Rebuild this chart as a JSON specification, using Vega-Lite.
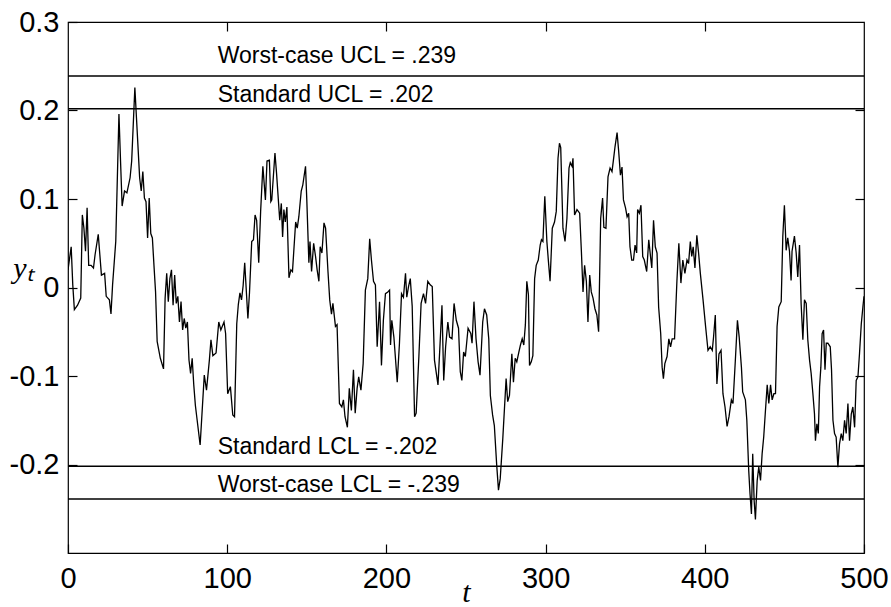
{
  "$schema": "https://vega.github.io/schema/vega-lite/v6.json",
  "width": 796,
  "height": 531,
  "autosize": {"type": "none"},
  "padding": {"left": 68, "top": 22, "right": 27, "bottom": 54},
  "background": "white",
  "config": {
    "view": {"stroke": "black", "strokeWidth": 1.2},
    "axis": {"grid": false, "domain": false, "labelFont": "Liberation Sans", "labelColor": "black", "tickColor": "black", "tickWidth": 1.2, "labelFlush": false, "labelOverlap": false, "labelBound": false}
  },
  "datasets": {
    "s": [
      {"t":0,"y":0.020},{"t":2,"y":0.046},{"t":3,"y":0.003},{"t":4,"y":-0.025},{"t":6,"y":-0.020},{"t":8,"y":-0.012},{"t":9,"y":0.082},{"t":10,"y":0.067},{"t":11,"y":0.041},{"t":12,"y":0.090},{"t":13,"y":0.025},{"t":14.5,"y":0.025},{"t":16,"y":0.022},{"t":17,"y":0.037},{"t":19,"y":0.060},{"t":21,"y":0.014},{"t":23,"y":0.016},{"t":24,"y":-0.010},{"t":26,"y":-0.014},{"t":27,"y":-0.030},{"t":28,"y":0.003},{"t":30,"y":0.052},{"t":32,"y":0.196},{"t":33,"y":0.143},{"t":34,"y":0.092},{"t":35.5,"y":0.109},{"t":37,"y":0.107},{"t":39,"y":0.124},{"t":40,"y":0.143},{"t":42,"y":0.226},{"t":43,"y":0.192},{"t":45,"y":0.124},{"t":46,"y":0.109},{"t":47,"y":0.131},{"t":48,"y":0.101},{"t":49,"y":0.097},{"t":50,"y":0.056},{"t":51,"y":0.101},{"t":52,"y":0.061},{"t":53,"y":0.056},{"t":54,"y":0.025},{"t":55,"y":-0.005},{"t":56,"y":-0.061},{"t":58,"y":-0.080},{"t":60,"y":-0.092},{"t":61,"y":-0.012},{"t":62,"y":0.016},{"t":63,"y":-0.016},{"t":64,"y":0.010},{"t":65,"y":0.020},{"t":66,"y":-0.020},{"t":67,"y":0.014},{"t":68,"y":-0.018},{"t":69,"y":-0.010},{"t":70,"y":-0.039},{"t":71,"y":-0.016},{"t":72,"y":-0.048},{"t":73,"y":-0.035},{"t":74,"y":-0.046},{"t":75,"y":-0.039},{"t":76,"y":-0.082},{"t":77,"y":-0.097},{"t":78,"y":-0.080},{"t":79,"y":-0.110},{"t":80,"y":-0.133},{"t":81,"y":-0.148},{"t":83,"y":-0.178},
      {"t":85.6,"y":-0.099},{"t":87,"y":-0.116},{"t":88.8,"y":-0.082},{"t":89.8,"y":-0.059},{"t":91,"y":-0.077},{"t":93,"y":-0.074},{"t":94.7,"y":-0.039},{"t":96,"y":-0.048},{"t":98,"y":-0.039},{"t":99,"y":-0.052},{"t":100.3,"y":-0.120},{"t":102,"y":-0.112},{"t":103.5,"y":-0.144},{"t":104.6,"y":-0.146},{"t":106,"y":-0.041},{"t":107,"y":-0.019},{"t":108,"y":-0.006},{"t":109,"y":-0.014},{"t":110,"y":0.002},{"t":111,"y":0.028},{"t":113,"y":-0.035},{"t":114,"y":-0.006},{"t":115.4,"y":0.052},{"t":116.5,"y":0.054},{"t":117.5,"y":0.082},{"t":118.5,"y":0.076},{"t":119.8,"y":0.028},{"t":121,"y":0.086},{"t":122.4,"y":0.137},{"t":124,"y":0.099},{"t":125,"y":0.143},{"t":126.5,"y":0.144},{"t":127.4,"y":0.097},{"t":128,"y":0.099},{"t":130,"y":0.152},{"t":131,"y":0.129},{"t":133,"y":0.076},{"t":134,"y":0.095},{"t":134.8,"y":0.057},{"t":135.6,"y":0.088},{"t":136.5,"y":0.074},{"t":137.5,"y":0.091},{"t":138.8,"y":0.011},{"t":140,"y":0.020},{"t":141,"y":0.018},{"t":143,"y":0.074},{"t":144,"y":0.067},{"t":145,"y":0.080},{"t":146.5,"y":0.109},{"t":147.5,"y":0.116},{"t":149.2,"y":0.137},{"t":150,"y":0.099},{"t":151.3,"y":0.028},{"t":152,"y":0.052},{"t":153,"y":0.018},{"t":154.3,"y":0.050},{"t":155.5,"y":0.035},{"t":156.5,"y":0.020},{"t":157.6,"y":0.007},{"t":158.4,"y":0.046},{"t":159.5,"y":0.039},{"t":160.8,"y":0.073},{"t":161.8,"y":0.067},{"t":163.3,"y":0.018},{"t":164.4,"y":-0.014},{"t":165.5,"y":-0.030},{"t":166.4,"y":-0.018},
      {"t":168,"y":-0.044},{"t":169,"y":-0.042},{"t":170.5,"y":-0.131},{"t":172,"y":-0.135},{"t":173,"y":-0.127},{"t":174,"y":-0.146},{"t":175.5,"y":-0.158},{"t":176.7,"y":-0.114},{"t":178,"y":-0.139},{"t":179.3,"y":-0.093},{"t":180.4,"y":-0.142},{"t":181.6,"y":-0.114},{"t":182.6,"y":-0.101},{"t":184,"y":-0.116},{"t":185.4,"y":-0.086},{"t":186.8,"y":-0.003},{"t":188.3,"y":0.010},{"t":189.5,"y":0.055},{"t":190.6,"y":0.031},{"t":191.9,"y":0.007},{"t":193.1,"y":0.003},{"t":194.2,"y":-0.067},{"t":195.7,"y":-0.016},{"t":196.9,"y":-0.088},{"t":198.1,"y":-0.037},{"t":199.4,"y":-0.007},{"t":200.9,"y":-0.005},{"t":202,"y":-0.003},{"t":202.6,"y":-0.065},{"t":203.4,"y":-0.037},{"t":204.7,"y":-0.056},{"t":206.8,"y":-0.107},{"t":208.2,"y":-0.063},{"t":209.5,"y":-0.007},{"t":210.7,"y":-0.011},{"t":212,"y":0.016},{"t":212.8,"y":-0.011},{"t":213.9,"y":0.001},{"t":215,"y":0.010},{"t":216.2,"y":-0.021},{"t":217.7,"y":-0.146},{"t":218.7,"y":-0.142},{"t":220.4,"y":-0.078},{"t":221.8,"y":-0.018},{"t":223.3,"y":-0.007},{"t":224.6,"y":-0.018},{"t":226,"y":0.007},{"t":227.5,"y":0.003},{"t":228.8,"y":0.001},{"t":230.2,"y":-0.082},{"t":232.4,"y":-0.110},{"t":233.5,"y":-0.071},{"t":234.9,"y":-0.020},{"t":236,"y":-0.105},{"t":237.2,"y":-0.067},{"t":238.6,"y":-0.039},{"t":239.7,"y":-0.056},{"t":241.2,"y":-0.058},{"t":242.5,"y":-0.018},{"t":243.9,"y":-0.037},{"t":245.3,"y":-0.046},{"t":246.4,"y":-0.095},{"t":247.4,"y":-0.105},{"t":248.5,"y":-0.073},{"t":249.6,"y":-0.078},
      {"t":251.3,"y":-0.046},{"t":253,"y":-0.052},{"t":253.8,"y":-0.063},{"t":255,"y":-0.016},{"t":256.3,"y":-0.058},{"t":257.6,"y":-0.084},{"t":258.8,"y":-0.099},{"t":260.5,"y":-0.039},{"t":261.6,"y":-0.024},{"t":263,"y":-0.031},{"t":264.3,"y":-0.058},{"t":265.3,"y":-0.122},{"t":266.7,"y":-0.144},{"t":267.8,"y":-0.156},{"t":269.3,"y":-0.201},{"t":270.4,"y":-0.229},{"t":271.5,"y":-0.216},{"t":273.1,"y":-0.171},{"t":275.2,"y":-0.103},{"t":276.2,"y":-0.129},{"t":277.3,"y":-0.122},{"t":278.8,"y":-0.075},{"t":279.8,"y":-0.107},{"t":280.9,"y":-0.080},{"t":281.9,"y":-0.084},{"t":283.2,"y":-0.073},{"t":284.2,"y":-0.065},{"t":285.3,"y":-0.058},{"t":286.3,"y":-0.065},{"t":287.3,"y":-0.042},{"t":288.2,"y":0.007},{"t":289.2,"y":-0.008},{"t":289.9,"y":-0.088},{"t":291,"y":-0.084},{"t":292,"y":-0.077},{"t":293.1,"y":0.010},{"t":294.1,"y":0.025},{"t":295.4,"y":0.031},{"t":296.6,"y":0.048},{"t":297.4,"y":0.054},{"t":298.3,"y":0.052},{"t":299.5,"y":0.103},{"t":300.8,"y":0.052},{"t":301.8,"y":0.029},{"t":302.8,"y":0.007},{"t":304.2,"y":0.067},{"t":305.6,"y":0.074},{"t":306.7,"y":0.086},{"t":307.8,"y":0.146},{"t":308.7,"y":0.163},{"t":309.5,"y":0.158},{"t":310.9,"y":0.067},{"t":312.2,"y":0.052},{"t":313.4,"y":0.078},{"t":314.7,"y":0.135},{"t":315.5,"y":0.141},{"t":316.6,"y":0.137},{"t":317.2,"y":0.146},{"t":318.2,"y":0.082},{"t":319.7,"y":0.088},{"t":321.4,"y":0.084},{"t":322.5,"y":0.040},{"t":323.5,"y":-0.005},{"t":324.5,"y":0.025},{"t":325.6,"y":0.007},{"t":326.6,"y":-0.039},{"t":327.7,"y":0.014},{"t":328.7,"y":-0.005},{"t":329.8,"y":-0.012},{"t":331,"y":-0.024},{"t":332.2,"y":-0.031},{"t":333.3,"y":-0.050},
      {"t":334.6,"y":0.078},{"t":335.8,"y":0.101},{"t":336.6,"y":0.068},{"t":337.9,"y":0.067},{"t":339.2,"y":0.125},{"t":340.5,"y":0.135},{"t":341.7,"y":0.131},{"t":342.6,"y":0.144},{"t":343.6,"y":0.159},{"t":344.9,"y":0.175},{"t":345.9,"y":0.154},{"t":347,"y":0.127},{"t":348,"y":0.136},{"t":348.9,"y":0.099},{"t":350.2,"y":0.090},{"t":351.2,"y":0.080},{"t":352.2,"y":0.084},{"t":353,"y":0.046},{"t":354.1,"y":0.031},{"t":355.2,"y":0.031},{"t":356.2,"y":0.048},{"t":357.2,"y":0.039},{"t":357.8,"y":0.088},{"t":358.9,"y":0.084},{"t":359.9,"y":0.093},{"t":361,"y":0.035},{"t":362,"y":0.031},{"t":363.5,"y":0.018},{"t":364.8,"y":0.054},{"t":365.9,"y":0.035},{"t":366.7,"y":0.022},{"t":367.8,"y":0.076},{"t":368.9,"y":0.046},{"t":370,"y":0.039},{"t":371,"y":-0.022},{"t":372.3,"y":-0.052},{"t":373.2,"y":-0.090},{"t":374,"y":-0.103},{"t":374.9,"y":-0.086},{"t":376.3,"y":-0.078},{"t":377.4,"y":-0.058},{"t":378.5,"y":-0.067},{"t":379.5,"y":-0.058},{"t":381,"y":-0.058},{"t":382.5,"y":0.008},{"t":383.7,"y":0.050},{"t":385,"y":0.005},{"t":386.2,"y":0.031},{"t":387.5,"y":0.016},{"t":388.8,"y":0.031},{"t":389.8,"y":0.027},{"t":390.9,"y":0.052},{"t":391.8,"y":0.035},{"t":392.7,"y":0.046},{"t":393.8,"y":0.022},{"t":395,"y":0.059},{"t":396.1,"y":0.039},{"t":397.2,"y":0.016},{"t":398.9,"y":-0.014},{"t":400.5,"y":-0.044},{"t":402,"y":-0.071},{"t":403.4,"y":-0.067},{"t":404.7,"y":-0.071},{"t":405.5,"y":-0.056},{"t":406.6,"y":-0.031},{"t":407.6,"y":-0.109},{"t":408.9,"y":-0.075},{"t":410.2,"y":-0.071},{"t":411.4,"y":-0.120},{"t":412.7,"y":-0.135},{"t":414,"y":-0.157},{"t":415.2,"y":-0.146},{"t":416.7,"y":-0.127},{"t":417.7,"y":-0.131},
      {"t":419.2,"y":-0.082},{"t":420.5,"y":-0.037},{"t":421.6,"y":-0.056},{"t":423,"y":-0.090},{"t":423.8,"y":-0.118},{"t":425.5,"y":-0.127},{"t":426.4,"y":-0.150},{"t":427.6,"y":-0.207},{"t":428.4,"y":-0.233},{"t":429.3,"y":-0.256},{"t":430.1,"y":-0.188},{"t":431,"y":-0.241},{"t":431.8,"y":-0.262},{"t":432.9,"y":-0.218},{"t":433.9,"y":-0.203},{"t":435,"y":-0.218},{"t":436,"y":-0.188},{"t":437,"y":-0.169},{"t":438.1,"y":-0.139},{"t":439.2,"y":-0.110},{"t":440.2,"y":-0.131},{"t":441.3,"y":-0.110},{"t":442.3,"y":-0.127},{"t":443.4,"y":-0.120},{"t":444.4,"y":-0.120},{"t":445.4,"y":-0.044},{"t":446.5,"y":-0.022},{"t":448,"y":-0.016},{"t":449,"y":0.058},{"t":450,"y":0.093},{"t":451.1,"y":0.042},{"t":452.1,"y":0.056},{"t":453.2,"y":0.041},{"t":454.2,"y":0.008},{"t":454.8,"y":0.041},{"t":456.3,"y":0.058},{"t":457.4,"y":0.039},{"t":458.4,"y":0.012},{"t":459.5,"y":0.048},{"t":460.5,"y":-0.018},{"t":461.6,"y":-0.059},{"t":462.6,"y":-0.014},{"t":463.7,"y":-0.018},{"t":464.7,"y":-0.059},{"t":465.8,"y":-0.082},{"t":466.8,"y":-0.097},{"t":467.9,"y":-0.120},{"t":468.9,"y":-0.143},{"t":469.5,"y":-0.173},{"t":470.4,"y":-0.154},{"t":471.3,"y":-0.165},{"t":472.1,"y":-0.112},{"t":472.9,"y":-0.090},{"t":473.7,"y":-0.052},{"t":474.6,"y":-0.048},{"t":475.5,"y":-0.093},{"t":476.3,"y":-0.063},{"t":477.3,"y":-0.063},{"t":478.8,"y":-0.067},{"t":479.6,"y":-0.093},{"t":480.5,"y":-0.150},{"t":481.5,"y":-0.165},{"t":482.5,"y":-0.169},{"t":483.6,"y":-0.203},{"t":484.6,"y":-0.177},{"t":485.7,"y":-0.165},{"t":486.7,"y":-0.173},{"t":487.8,"y":-0.150},{"t":488.8,"y":-0.165},{"t":489.9,"y":-0.131},{"t":490.9,"y":-0.173},{"t":492,"y":-0.143},{"t":493,"y":-0.135},{"t":494.1,"y":-0.158},{"t":495.1,"y":-0.105},{"t":496.2,"y":-0.101},{"t":497.2,"y":-0.074},{"t":498.3,"y":-0.041},{"t":499.3,"y":-0.022},{"t":500,"y":-0.010}
    ]
  },
  "layer": [
    {
      "data": {"name": "s"},
      "mark": {"type": "line", "color": "black", "strokeWidth": 1.3, "clip": true},
      "encoding": {
        "x": {"field": "t", "type": "quantitative", "scale": {"domain": [0, 500], "nice": false, "zero": false},
          "axis": {"orient": "bottom", "values": [0, 100, 200, 300, 400, 500], "offset": -9, "tickSize": 9, "labelPadding": 11, "labelFontSize": 29, "title": "t", "titleFont": "Liberation Serif", "titleFontStyle": "italic", "titleFontWeight": "normal", "titleFontSize": 30, "titleColor": "black", "titleX": 398, "titleY": 48, "titleBaseline": "middle", "titleAlign": "center"}},
        "y": {"field": "y", "type": "quantitative", "scale": {"domain": [-0.3, 0.3], "nice": false, "zero": false},
          "axis": {"orient": "left", "values": [-0.2, -0.1, 0, 0.1, 0.2, 0.3], "labelExpr": "'' + datum.value", "offset": -9, "tickSize": 9, "labelPadding": 9, "labelFontSize": 29, "title": "yₜ", "titleFont": "Liberation Serif", "titleFontStyle": "italic", "titleFontWeight": "normal", "titleFontSize": 30, "titleColor": "black", "titleAngle": 0, "titleX": -54, "titleY": 246, "titleBaseline": "middle", "titleAlign": "center"}}
      }
    },
    {
      "data": {"values": [{"v": 0.239}, {"v": 0.202}, {"v": -0.202}, {"v": -0.239}]},
      "mark": {"type": "rule", "color": "black", "strokeWidth": 1.4},
      "encoding": {
        "x": {"datum": 0, "type": "quantitative", "scale": {"domain": [0, 500], "nice": false, "zero": false},
          "axis": {"orient": "top", "values": [100, 200, 300, 400], "offset": -9, "tickSize": 9, "labels": false, "title": null}},
        "x2": {"datum": 500},
        "y": {"field": "v", "type": "quantitative", "scale": {"domain": [-0.3, 0.3], "nice": false, "zero": false},
          "axis": {"orient": "right", "values": [-0.2, -0.1, 0, 0.1, 0.2], "offset": -9, "tickSize": 9, "labels": false, "title": null}}
      }
    },
    {
      "data": {"values": [
        {"label": "Worst-case UCL = .239", "ly": 0.2612},
        {"label": "Standard UCL = .202", "ly": 0.217},
        {"label": "Standard LCL = -.202", "ly": -0.1807},
        {"label": "Worst-case LCL = -.239", "ly": -0.2227}
      ]},
      "mark": {"type": "text", "align": "left", "baseline": "middle", "font": "Liberation Sans", "fontSize": 23, "color": "black"},
      "encoding": {
        "x": {"datum": 94, "type": "quantitative", "scale": {"domain": [0, 500], "nice": false, "zero": false}, "axis": null},
        "y": {"field": "ly", "type": "quantitative", "scale": {"domain": [-0.3, 0.3], "nice": false, "zero": false}, "axis": null},
        "text": {"field": "label"}
      }
    }
  ],
  "resolve": {"axis": {"x": "independent", "y": "independent"}}
}
